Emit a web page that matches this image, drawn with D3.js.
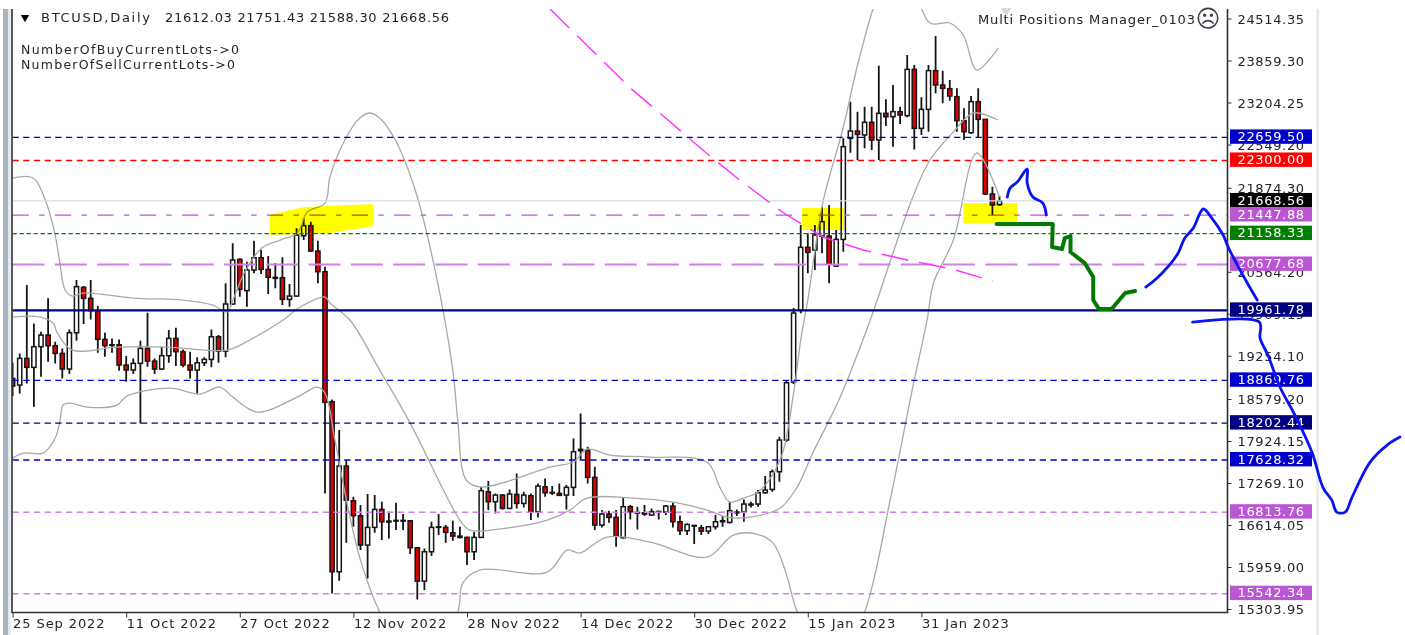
<!DOCTYPE html>
<html><head><meta charset="utf-8">
<script src="https://cdn.jsdelivr.net/npm/d3@7"></script>
<style>
html,body{margin:0;padding:0;background:#fff;overflow:hidden}
svg{display:block;filter:blur(0.45px)}
text{font-family:"DejaVu Sans",sans-serif;fill:#20242c}
</style></head><body><div id="chart"></div>
<script>
const opens=[18901,18797,19213,19073,19395,19577,19411,19291,19047,19613,
20321,20149,19957,19509,19426,19426,19109,19031,19135,19369,
19171,19047,19255,19525,19317,19109,19031,19145,19197,19551,
19327,20061,20757,20269,20591,20783,20601,20477,20471,20133,
20185,21127,21283,20887,20565,18537,15885,17533,16993,16759,
16301,16577,16857,16675,16686,16675,16681,16259,15739,16197,
16587,16577,16493,16441,16421,16197,16421,17133,16977,17081,
16873,17091,16951,17071,16821,17211,17123,17107,17081,17201,
17773,17783,17357,16613,16785,16733,16415,16899,16811,16805,
16769,16816,16816,16909,16665,16525,16608,16571,16519,16587,
16665,16655,16805,16821,16925,16941,17117,17169,17445,17939,
18844,19967,20945,20903,21121,21121,20653,21069,22645,22759,
22697,22895,22619,23035,22983,23061,22999,23721,22801,23097,
23701,23477,23420,23295,22921,22733,23217,22941,21777,21612.03];
const highs=[19145,19291,20357,19759,19629,20149,19473,19369,19665,20435,
20341,20435,20029,19613,19525,19509,19249,19213,19489,19925,
19213,19395,19655,19691,19353,19317,19229,19229,19665,19577,
20383,21007,20773,20721,21049,20903,20809,20695,20789,20373,
21241,21397,21345,21049,20643,18573,18095,17627,17055,16925,
17097,17081,16977,16821,16961,16785,16691,16259,16249,16665,
16785,16613,16681,16587,16431,16509,17211,17299,17107,17097,
17169,17419,17133,17107,17263,17341,17221,17263,17237,17965,
18355,17835,17523,16847,16837,16847,17045,16925,16899,16925,
16873,16837,16925,16961,16759,16639,16613,16613,16587,16769,
16753,16977,16857,17013,16977,17159,17377,17481,17991,18875,
19998,21293,21163,21293,21569,21605,21215,22645,23217,23061,
23139,23139,23779,23253,23477,23139,23945,23789,23285,23789,
24241,23701,23555,23425,23113,23305,23425,22941,21891,21751.43];
const lows=[18625,18667,18823,18459,18927,19161,19135,18901,18969,19489,
19749,19821,19301,19239,19301,19021,18849,18969,18199,19083,
18969,19031,19145,19093,19073,18901,18667,19093,19073,19145,
19229,20045,20175,20019,20539,20529,20217,20305,20045,20019,
20175,21059,20877,20383,17107,15547,15745,16337,16587,16223,
15781,16493,16379,16405,16535,16535,16161,15453,15599,16129,
16457,16337,16369,16405,15989,16067,16415,16847,16795,16857,
16873,16873,16889,16691,16733,17055,17081,17065,16857,17065,
17637,17263,16535,16577,16649,16275,16405,16701,16545,16753,
16753,16701,16769,16577,16457,16457,16317,16457,16473,16545,
16587,16639,16753,16665,16889,16899,17107,17133,17289,17913,
18813,19915,20539,20591,20851,20383,20643,20877,22421,22307,
22489,22463,22307,22837,22515,22869,22973,22473,22697,22749,
23347,23191,23233,22749,22619,22713,22661,21761,21449,21588.30];
const closes=[18781,19213,19073,19395,19577,19411,19291,19047,19613,20331,
20149,19957,19509,19411,19416,19109,19031,19135,19369,19171,
19047,19255,19525,19317,19109,19031,19145,19197,19551,19327,
20061,20747,20289,20591,20783,20601,20477,20461,20133,20185,
21137,21283,20887,20565,18527,15885,17533,17003,16759,16301,
16577,16857,16665,16660,16675,16686,16259,15739,16197,16577,
16577,16499,16441,16421,16197,16421,17149,16977,17081,16873,
17097,16951,17081,16821,17221,17117,17112,17076,17201,17757,
17793,17357,16613,16785,16733,16441,16899,16821,16800,16785,
16821,16826,16909,16665,16525,16623,16597,16519,16587,16665,
16681,16837,16816,16941,16941,17117,17159,17445,17939,18833,
19920,20945,20867,21137,21345,20685,21069,22515,22759,22707,
22895,22619,23035,22983,23061,23009,23721,22801,23097,23701,
23477,23425,23305,22921,22749,23217,22941,21777,21605,21668.56];

// Bollinger bands as [bar, price]
const upperBand=[[0,22026],[2.9,22026],[4.6,21683],[6,21137],[6.7,20669],[7.4,20279],[8.4,20185],[9.9,20232],[17,20154],[24,20123],[28.2,20045],[30.2,19936],[31.2,20170],[32.7,20560],[35.1,20934],[37.7,21059],[40.1,21168],[41.5,21496],[44,21636],[44.7,22042],[46.8,22619],[48.9,22962],[50.3,23040],[51.7,22962],[53.9,22619],[56.7,21839],[59.5,20591],[62,19031],[62.7,18251],[63.9,17315],[66.1,17206],[75.7,17518],[79,17596],[80.9,17799],[84.1,17705],[89.8,17674],[97.8,17596],[99.6,17206],[101,16972],[102.9,17034],[105,17128],[108.1,17627],[110,18672],[111,19499],[112,20123],[114.1,21636],[116.9,22775],[119.3,23914],[122.2,24950],[124.7,25300],[127,24950],[129.2,24444],[132,24444],[133.9,24257],[135.8,23711],[138.8,24054]];
const middleBand=[[0,19858],[3.9,19858],[5.7,19764],[6.3,19608],[8.4,19343],[14.7,19390],[21.7,19390],[30.2,19343],[33.4,19499],[38.1,19811],[40.5,20014],[44,20170],[44.7,20076],[47.5,19811],[51.7,19031],[56,18204],[63,16691],[64.4,16535],[69.6,16566],[75.3,16691],[78.5,16847],[80.9,17034],[87.4,17034],[93,16972],[97.8,16847],[100.6,16738],[103.9,16738],[108.1,16878],[110.5,17206],[112.7,17736],[116.5,18594],[120.8,19811],[124,20856],[126.8,21730],[129.2,22307],[132.5,22744],[135.3,23040],[138.8,22931]];
const lowerBand=[[0,17658],[1.5,17736],[4.3,17736],[6,17970],[6.7,18251],[7.1,18485],[8.1,18516],[10.5,18454],[14.7,18485],[16.1,18625],[22.2,18750],[26.4,18657],[29.2,18766],[31,18610],[34.4,18376],[40.1,18610],[42.9,18766],[44,18672],[45.4,17939],[47.3,16847],[49,16067],[51.7,15256],[57.4,14195],[62.7,15256],[63.4,15708],[65.8,15911],[75.3,15880],[78.1,16223],[79.9,16176],[83.7,16426],[89.8,16348],[97.8,16114],[101.5,16457],[104.8,16473],[107.1,16332],[108.8,15911],[110.5,15256],[115.1,14195],[120,15256],[123.6,17003],[126.7,18719],[128.8,19811],[129.7,20388],[132.5,21059],[135.8,22416],[139,21730]];

// Hand-drawn annotations as [bar, price]
const magentaTrend=[[75.7,24663],[87,23430],[92.3,22931],[97.2,22463],[102.4,21995],[108.4,21496],[114.1,21106],[119.8,20903],[126,20747],[132.3,20607],[138.1,20419]];
const blueStrokeA=[[140.1,21730],[140.5,21870],[141.5,21964],[142.9,22167],[142.9,21948],[143.7,21730],[145.1,21636],[145.6,21449]];
const blueStrokeB=[[159.6,20326],[161.2,20466],[164,20825],[165.1,21090],[166.3,21246],[167.7,21543],[168.9,21402],[170.5,21137],[171.2,20950],[173.9,20388],[175.3,20123]];
const blueStrokeC=[[166.2,19780],[175.6,19780],[175.7,19530],[176.8,19265],[178.5,18766],[180.6,18329],[183,17752],[184.6,17190],[185.8,17003],[186.5,16816],[187.7,16816],[188.6,17034],[191.2,17596],[193.6,17861],[195.4,17986]];
const greenStroke=[[138.6,21309],[146.5,21309],[146.4,20950],[147.8,20919],[148.2,21090],[149,21121],[149,20872],[151,20700],[152.2,20482],[152.2,20123],[153,19983],[154.8,19983],[156.7,20232],[158.1,20263]];
const yellowZoneA=[[36.2,21449],[39.1,21527],[41.2,21574],[50.8,21621],[50.8,21277],[44.7,21168],[36.2,21137]];
const yellowZoneB=[[111.2,21558],[117.1,21558],[117.1,21215],[111.2,21215]];
const yellowZoneC=[[133.9,21636],[141.5,21636],[141.5,21324],[133.9,21324]];

const dateTickBars=[0,16,32,48,64,80,96,112,128];
const dateTickLabels=["25 Sep 2022","11 Oct 2022","27 Oct 2022","12 Nov 2022","28 Nov 2022","14 Dec 2022","30 Dec 2022","15 Jan 2023","31 Jan 2023"];
const priceTicks=[24514.35,23859.30,23204.25,22549.20,21874.30,20564.20,19909.15,19254.10,18579.20,17924.15,17269.10,16614.05,15959.00,15303.95];
const levelPrices=[22659.50,22300.00,21668.56,21447.88,21158.33,20677.68,19961.78,18869.76,18202.44,17628.32,16813.76,15542.34];
const levelColors=["#0000cd","#ff0000","#000000","#ba55d3","#008000","#ba55d3","#000080","#0000cd","#000080","#0000cd","#ba55d3","#ba55d3"];
const levelLineColors=["#0000cd","#ff0000","#d4dae4","#c050e0","#008000","#d27fe6","#000080","#0000cd","#000080","#0000cd","#d27fe6","#d27fe6"];
const levelDashes=["6.3,4.4","6.3,4.4",null,"16.3,10.3,5.5,10.3","4.4,2.6","32,10.3",null,"6.3,4.4","6.3,4.4","6.3,4.4","6.3,4.4","6.3,4.4"];
const levelWidths=[1.4,1.4,1.2,1.4,1.4,1.8,2.4,1.4,1.4,1.4,1.4,1.4];

const W=1405,H=635,L=12,R=1227.5,T=9,B=612.5;
const x=d3.scaleLinear().domain([0,160]).range([12.6,12.6+7.1*160]);
const y=d3.scaleLinear().domain([15303.95,24514.35]).range([609,18.5]);

const svg=d3.select("#chart").append("svg").attr("width",W).attr("height",H);
svg.append("rect").attr("x",3).attr("y",T).attr("width",5).attr("height",H-T).attr("fill","#a9b4c2");
svg.append("rect").attr("x",8).attr("y",T).attr("width",2.5).attr("height",H-T).attr("fill","#e4e6ea");
svg.append("rect").attr("x",1316.5).attr("y",T).attr("width",2.5).attr("height",H-T).attr("fill","#e8e8e8");
svg.append("clipPath").attr("id","plot").append("rect").attr("x",L).attr("y",T).attr("width",R-L).attr("height",B-T);

const candles=d3.range(opens.length).map(i=>({i,o:opens[i],h:highs[i],l:lows[i],c:closes[i]}));
const gC=svg.append("g").attr("clip-path","url(#plot)");
gC.selectAll("line.w").data(candles).join("line").attr("class","w")
 .attr("x1",d=>x(d.i)).attr("x2",d=>x(d.i)).attr("y1",d=>y(d.h)).attr("y2",d=>y(d.l))
 .attr("stroke","#141414").attr("stroke-width",1.8);
gC.selectAll("rect.b").data(candles).join("rect").attr("class","b")
 .attr("x",d=>x(d.i)-2.1).attr("width",4.2)
 .attr("y",d=>y(Math.max(d.o,d.c))).attr("height",d=>Math.max(.6,Math.abs(y(d.o)-y(d.c))))
 .attr("fill",d=>d.c>=d.o?"#ffffff":"#e00000").attr("stroke","#141414").attr("stroke-width",1.5);

const lineGen=d3.line().x(d=>x(d[0])).y(d=>y(d[1]));
const smoothGen=d3.line().x(d=>x(d[0])).y(d=>y(d[1])).curve(d3.curveCatmullRom.alpha(.5));
const gB=svg.append("g").attr("clip-path","url(#plot)");
[upperBand,middleBand,lowerBand].forEach(b=>gB.append("path").attr("d",smoothGen(b)).attr("fill","none").attr("stroke","#a8a8a8").attr("stroke-width",1.3));

const gL=svg.append("g");
levelPrices.forEach((p,i)=>{
 const ln=gL.append("line").attr("x1",L+.5).attr("x2",R).attr("y1",y(p)).attr("y2",y(p))
  .attr("stroke",levelLineColors[i]).attr("stroke-width",levelWidths[i]);
 if(levelDashes[i]) ln.attr("stroke-dasharray",levelDashes[i]);
});
svg.append("path").attr("clip-path","url(#plot)").attr("d",lineGen(magentaTrend)).attr("fill","none").attr("stroke","#ff30ff").attr("stroke-width",1.4).attr("stroke-dasharray","27,11");

const zoneGen=d3.line().x(d=>x(d[0])).y(d=>y(d[1])).curve(d3.curveLinearClosed);
[yellowZoneA,yellowZoneB,yellowZoneC].forEach(z=>svg.append("path").attr("d",zoneGen(z)).attr("fill","#ffff00").style("mix-blend-mode","multiply"));

// frame
svg.append("path").attr("d",`M${L},${T}V${B}H${R}V${T}`).attr("fill","none").attr("stroke","#303030").attr("stroke-width",1.6);

// axes
const yAxis=d3.axisRight(y).tickValues(priceTicks).tickFormat(d3.format(".2f")).tickSize(4).tickPadding(6);
const gY=svg.append("g").attr("transform",`translate(${R},0)`).call(yAxis);
gY.select(".domain").remove();
gY.selectAll("line").attr("stroke","#303030");
gY.selectAll("text").attr("font-size",13).attr("letter-spacing",.65).attr("font-family","DejaVu Sans").attr("dy","0.35em").attr("fill","#20242c");

const xAxis=d3.axisBottom(x).tickValues(dateTickBars).tickFormat((d,i)=>dateTickLabels[i]).tickSize(5).tickPadding(1);
const gX=svg.append("g").attr("transform",`translate(0,${B})`).call(xAxis);
gX.select(".domain").remove();
gX.selectAll("line").attr("stroke","#303030");
gX.selectAll("text").attr("text-anchor","start").attr("font-size",13).attr("letter-spacing",.9).attr("font-family","DejaVu Sans").attr("fill","#20242c");

// price badges
const gP=svg.append("g");
levelPrices.forEach((p,i)=>{
 gP.append("rect").attr("x",R+2.5).attr("y",y(p)-8).attr("width",82).attr("height",14.4).attr("fill",levelColors[i]);
 gP.append("text").attr("x",R+10).attr("y",y(p)-1).attr("dy","0.35em").attr("font-size",13).attr("letter-spacing",.65)
  .style("fill","#ffffff").text(d3.format(".2f")(p));
});

// hand-drawn strokes
[blueStrokeA,blueStrokeB,blueStrokeC].forEach(s=>svg.append("path").attr("d",smoothGen(s)).attr("fill","none").attr("stroke","#0a14f0").attr("stroke-width",2.8).attr("stroke-linejoin","round").attr("stroke-linecap","round"));
svg.append("path").attr("d",lineGen(greenStroke)).attr("fill","none").attr("stroke","#007a00").attr("stroke-width",4).attr("stroke-linejoin","round").attr("stroke-linecap","round");

// header text
svg.append("path").attr("d",d3.symbol().type(d3.symbolTriangle).size(30)()).attr("transform","translate(25,17.5) rotate(180)").attr("fill","#000");
svg.append("path").attr("d",d3.symbol().type(d3.symbolTriangle).size(50)()).attr("transform","translate(1006,11) rotate(180)").attr("fill","#d8d8d8");
svg.append("text").attr("x",41).attr("y",22).attr("font-size",13).attr("textLength",109).text("BTCUSD,Daily");
svg.append("text").attr("x",165).attr("y",22).attr("font-size",13).attr("textLength",284).text("21612.03 21751.43 21588.30 21668.56");
svg.append("text").attr("x",21).attr("y",54).attr("font-size",12.5).attr("textLength",218).text("NumberOfBuyCurrentLots->0");
svg.append("text").attr("x",21).attr("y",69).attr("font-size",12.5).attr("textLength",214).text("NumberOfSellCurrentLots->0");
svg.append("text").attr("x",978).attr("y",24).attr("font-size",13).attr("textLength",217).text("Multi Positions Manager_0103");
svg.append("text").attr("x",1208).attr("y",27).attr("text-anchor","middle").attr("font-size",24).style("fill","#3a3f48").text("\u2639");
</script></body></html>
